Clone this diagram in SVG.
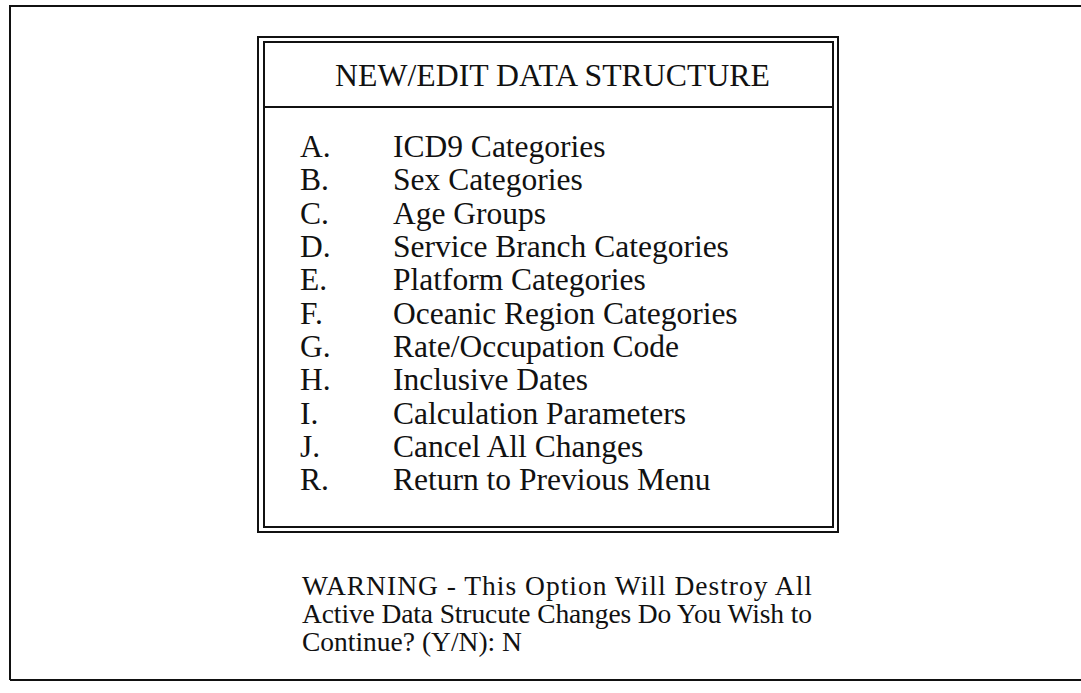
<svg xmlns="http://www.w3.org/2000/svg" width="1081" height="693" viewBox="0 0 1081 693">
<style>
.ln{fill:none;stroke:#111;stroke-width:2}
.t{font-family:"Liberation Serif","Times New Roman",serif;fill:#111}
.title{font-size:31px}
.item{font-size:31.5px}
.warn{font-size:27.5px}
</style>
<rect width="1081" height="693" fill="#fff"/>
<g id="frame">
<path class="ln" d="M10,680 V6 H1081 M10,680 H1081"/>
</g>
<g id="menu-box">
<rect class="ln" x="258" y="37" width="580" height="495"/>
<rect class="ln" x="264" y="42" width="569" height="485"/>
<line class="ln" x1="264" y1="107" x2="833" y2="107"/>
<text class="t title" x="335" y="86" textLength="435" lengthAdjust="spacingAndGlyphs">NEW/EDIT DATA STRUCTURE</text>
</g>
<g id="menu-items" class="t item">
<text x="300" y="157">A.</text><text x="393" y="157">ICD9 Categories</text>
<text x="300" y="190">B.</text><text x="393" y="190">Sex Categories</text>
<text x="300" y="224">C.</text><text x="393" y="224">Age Groups</text>
<text x="300" y="257">D.</text><text x="393" y="257">Service Branch Categories</text>
<text x="300" y="290">E.</text><text x="393" y="290">Platform Categories</text>
<text x="300" y="324">F.</text><text x="393" y="324">Oceanic Region Categories</text>
<text x="300" y="357">G.</text><text x="393" y="357">Rate/Occupation Code</text>
<text x="300" y="390">H.</text><text x="393" y="390">Inclusive Dates</text>
<text x="300" y="424">I.</text><text x="393" y="424">Calculation Parameters</text>
<text x="300" y="457">J.</text><text x="393" y="457">Cancel All Changes</text>
<text x="300" y="490">R.</text><text x="393" y="490">Return to Previous Menu</text>
</g>
<g id="warning" class="t warn">
<text x="302" y="595" textLength="510" lengthAdjust="spacing">WARNING - This Option Will Destroy All</text>
<text x="302" y="623" textLength="510" lengthAdjust="spacing">Active Data Strucute Changes Do You Wish to</text>
<text x="302" y="651">Continue? (Y/N): N</text>
</g>
</svg>
